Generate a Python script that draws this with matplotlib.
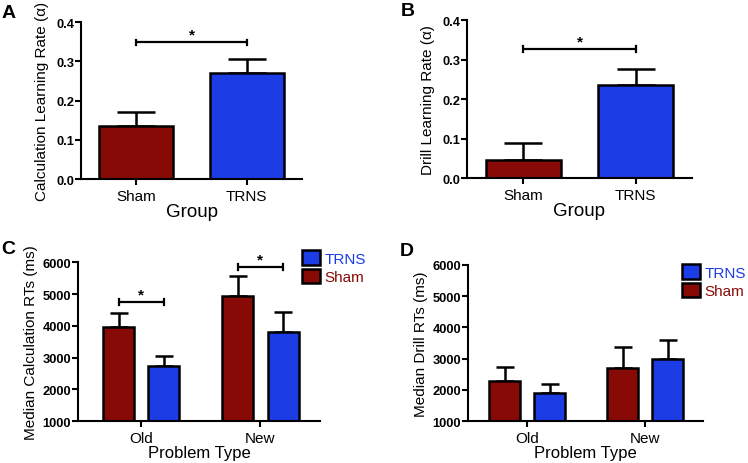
import matplotlib
matplotlib.use('Agg')
import matplotlib.pyplot as plt
import numpy as np
from matplotlib.patches import Patch

plt.rcParams['font.family'] = ['Liberation Sans', 'DejaVu Sans']

# Panel A / B data (learning rates)
groups = ['Sham', 'TRNS']
calc_rate = [0.135, 0.270]
calc_rate_sem = [0.037, 0.035]
drill_rate = [0.046, 0.235]
drill_rate_sem = [0.042, 0.040]

# Panel C / D data (median RTs)
problem_types = ['Old', 'New']
calc_rt_sham = [3950, 4940]
calc_rt_sham_sem = [450, 640]
calc_rt_trns = [2730, 3800]
calc_rt_trns_sem = [335, 630]
drill_rt_sham = [2300, 2690]
drill_rt_sham_sem = [430, 690]
drill_rt_trns = [1915, 2990]
drill_rt_trns_sem = [275, 610]

red = '#870A06'
blue = '#1C3CE6'
lw = 1.8

fig = plt.figure(figsize=(7.48, 4.64), dpi=100)
axA = fig.add_axes([0.1083, 0.612, 0.2955, 0.3384])
axB = fig.add_axes([0.6243, 0.6142, 0.3008, 0.3405])
axC = fig.add_axes([0.1043, 0.0899, 0.3235, 0.3427])
axD = fig.add_axes([0.6257, 0.0899, 0.3142, 0.3375])


def style(ax):
    for s in ['top', 'right']:
        ax.spines[s].set_visible(False)
    for s in ['left', 'bottom']:
        ax.spines[s].set_linewidth(1.5)
    ax.tick_params(axis='y', width=1.5, length=4, labelsize=9.3, pad=1)
    ax.tick_params(axis='x', width=1.5, length=4, labelsize=11, pad=3)
    for lab in ax.get_yticklabels():
        lab.set_fontweight('bold')


def sig_bar(ax, x0, x1, y, dy, star_off):
    ax.plot([x0, x1], [y, y], color='black', lw=1.6, solid_capstyle='butt')
    ax.plot([x0, x0], [y - dy, y + dy], color='black', lw=1.6)
    ax.plot([x1, x1], [y - dy, y + dy], color='black', lw=1.6)
    ax.text((x0 + x1) / 2, y + star_off, '*', ha='center', va='bottom',
            fontsize=11, fontweight='bold')


# --- A and B: two-bar panels
for ax, vals, sem, ylab, sig_y in [
        (axA, calc_rate, calc_rate_sem, 'Calculation Learning Rate (\u03b1)', 0.348),
        (axB, drill_rate, drill_rate_sem, 'Drill Learning Rate (\u03b1)', 0.327)]:
    x = np.arange(len(groups))
    ax.errorbar(x, vals, yerr=[np.zeros(len(vals)), sem], fmt='none',
                ecolor='black', elinewidth=lw, capsize=14, capthick=lw, zorder=1)
    ax.bar(x, vals, 0.67, color=[red, blue], edgecolor='black', linewidth=lw, zorder=2)
    ax.set_xlim(-0.5, 1.5)
    ax.set_ylim(0, 0.4)
    ax.set_yticks([0.0, 0.1, 0.2, 0.3, 0.4])
    ax.set_yticklabels(['0.0', '0.1', '0.2', '0.3', '0.4'])
    ax.set_xticks(x)
    ax.set_xticklabels(groups)
    ax.set_xlabel('Group', fontsize=13.5, labelpad=0)
    ax.set_ylabel(ylab, fontsize=11, labelpad=5)
    style(ax)
    sig_bar(ax, 0, 1, sig_y, 0.007, 0.002)

# --- C and D: grouped panels
w = 0.26
off = 0.19
for ax, sham, sham_sem, trns, trns_sem, ylab, sigs in [
        (axC, calc_rt_sham, calc_rt_sham_sem, calc_rt_trns, calc_rt_trns_sem,
         'Median Calculation RTs (ms)', [4740, 5860]),
        (axD, drill_rt_sham, drill_rt_sham_sem, drill_rt_trns, drill_rt_trns_sem,
         'Median Drill RTs (ms)', None)]:
    x = np.arange(len(problem_types))
    ax.errorbar(x - off, sham, yerr=[np.zeros(2), sham_sem], fmt='none',
                ecolor='black', elinewidth=lw, capsize=6.3, capthick=lw, zorder=1)
    ax.errorbar(x + off, trns, yerr=[np.zeros(2), trns_sem], fmt='none',
                ecolor='black', elinewidth=lw, capsize=6.3, capthick=lw, zorder=1)
    ax.bar(x - off, sham, w, color=red, edgecolor='black', linewidth=lw, zorder=2)
    ax.bar(x + off, trns, w, color=blue, edgecolor='black', linewidth=lw, zorder=2)
    ax.set_ylim(1000, 6000)
    ax.set_yticks(range(1000, 6001, 1000))
    ax.set_xticks(x)
    ax.set_xticklabels(problem_types)
    ax.set_xlabel('Problem Type', fontsize=12, labelpad=0)
    ax.set_ylabel(ylab, fontsize=11, labelpad=3)
    style(ax)
    if sigs:
        for i, sy in enumerate(sigs):
            sig_bar(ax, i - off, i + off, sy, 90, 20)
    leg = ax.legend(handles=[Patch(facecolor=blue, edgecolor='black', linewidth=lw),
                             Patch(facecolor=red, edgecolor='black', linewidth=lw)],
                    labels=['TRNS', 'Sham'], frameon=False, fontsize=11,
                    handlelength=1.2, handleheight=1.1, handletextpad=0.25,
                    labelspacing=0.2, borderpad=0, borderaxespad=0,
                    loc='upper left', bbox_to_anchor=(1.0, 1.04))
    for t, c in zip(leg.get_texts(), [blue, red]):
        t.set_color(c)

axC.set_xlim(-0.53, 1.5)
axD.set_xlim(-0.5, 1.49)
# legend positions differ per panel
axC.get_legend().set_bbox_to_anchor((302 / 748, 1 - 251 / 464), transform=fig.transFigure)
axD.get_legend().set_bbox_to_anchor((682 / 748, 1 - 265 / 464), transform=fig.transFigure)

for lab, (px, py) in zip('ABCD', [(2, 5), (401, 3), (1, 241), (400, 243)]):
    fig.text(px / 748, 1 - py / 464, lab, fontsize=14, fontweight='bold',
             ha='left', va='top')

fig.savefig('out.png', dpi=100)
